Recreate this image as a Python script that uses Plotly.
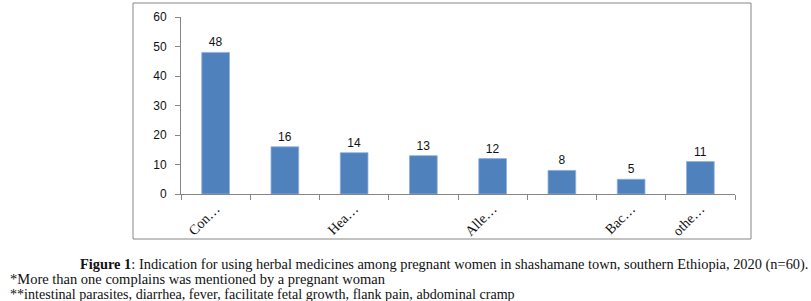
import plotly.graph_objects as go

# ---- data ----
categories = ["Con…", "c2", "Hea…", "c4", "Alle…", "c6", "Bac…", "othe…"]
tick_text = ["Con…", "", "Hea…", "", "Alle…", "", "Bac…", "othe…"]
values = [48, 16, 14, 13, 12, 8, 5, 11]
y_ticks = [0, 10, 20, 30, 40, 50, 60]

caption_1 = "<b>Figure 1</b>: Indication for using herbal medicines among pregnant women in shashamane town, southern Ethiopia, 2020 (n=60)."
caption_2 = "*More than one complains was mentioned by a pregnant woman"
caption_3 = "**intestinal parasites, diarrhea, fever, facilitate fetal growth, flank pain, abdominal cramp"

W, H = 811, 301
L, R, T, B = 181, 735, 17, 194  # plot area in pixels


def px_x(x):
    return (x - L) / (R - L)


def px_y(y):
    return (B - y) / (B - T)


fig = go.Figure()
fig.add_trace(go.Bar(
    x=categories,
    y=values,
    marker=dict(color="#4F81BD", line=dict(color="#8FB0DA", width=0.8)),
    text=[str(v) for v in values],
    textposition="outside",
    textfont=dict(family="Liberation Sans, Arial", size=12, color="#111"),
    cliponaxis=False,
))

fig.update_layout(
    width=W, height=H,
    margin=dict(l=L, r=W - R, t=T, b=H - B),
    paper_bgcolor="white", plot_bgcolor="white",
    bargap=0.6,
    showlegend=False,
    xaxis=dict(
        type="category",
        tickmode="array", tickvals=categories, ticktext=tick_text,
        tickson="boundaries",
        ticks="outside", ticklen=5, tickcolor="#868686",
        showline=True, linecolor="#868686", linewidth=1,
        tickangle=-45,
        tickfont=dict(family="Liberation Serif, Times New Roman", size=14, color="#111"),
        showgrid=False,
        automargin=False,
    ),
    yaxis=dict(
        range=[0, 60], tickvals=y_ticks,
        ticks="outside", ticklen=5, tickcolor="#868686",
        showline=True, linecolor="#868686", linewidth=1,
        tickfont=dict(family="Liberation Sans, Arial", size=12, color="#111"),
        ticklabelstandoff=6,
        showgrid=False, zeroline=False,
        automargin=False,
    ),
    shapes=[dict(
        type="rect", xref="paper", yref="paper",
        x0=px_x(133), x1=px_x(751), y0=px_y(239), y1=px_y(3),
        line=dict(color="#868686", width=1), fillcolor="rgba(0,0,0,0)",
        layer="below",
    )],
)

for txt, x0, yc, fs in [(caption_1, 79, 264, 14.4), (caption_2, 9, 279, 14.5), (caption_3, 9, 294, 14.1)]:
    fig.add_annotation(
        text=txt, xref="paper", yref="paper",
        x=px_x(x0), y=px_y(yc), xanchor="left", yanchor="middle",
        showarrow=False, borderpad=0,
        font=dict(family="Liberation Serif, Times New Roman", size=fs, color="#111"),
    )

fig.write_html(
    "out.html",
    config={"displayModeBar": False},
    post_script="document.body.style.margin='0';document.body.style.overflow='hidden';",
)
